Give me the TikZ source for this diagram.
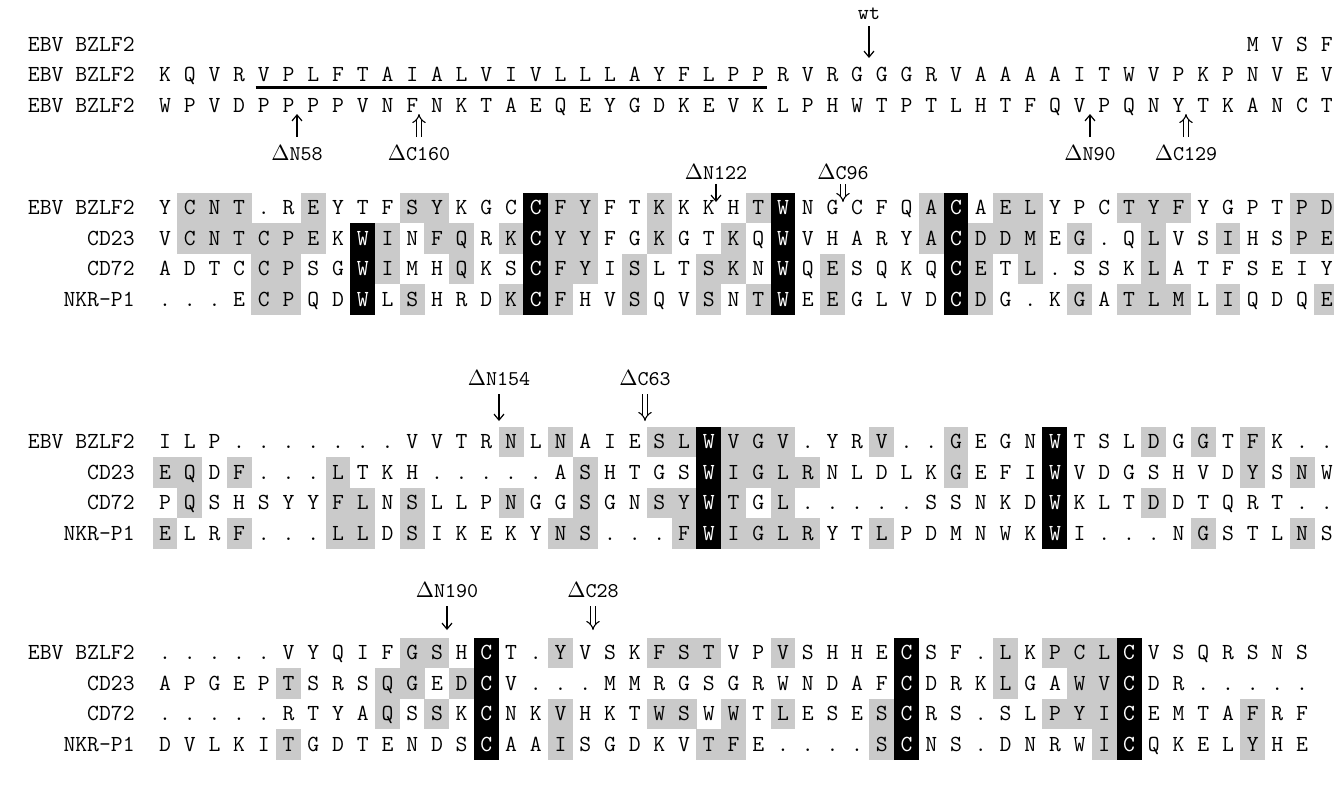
\documentclass[tikz,border=0pt]{standalone}
\usepackage{xcolor}
\usetikzlibrary{arrows.meta}
\definecolor{simgray}{RGB}{202,202,202}
\newcommand{\resfont}{\fontsize{11.5}{13}\selectfont\ttfamily}
\newcommand{\cutfont}{\fontsize{10.5}{12}\selectfont\ttfamily}
% residue columns are 24.72px apart, the first one at x=165
\newcommand{\colx}[1]{165+(#1-1)*24.72}
% one aligned row: prefix, name, y, shaded columns, boxed columns, residues
\newcommand{\seqrow}[6]{%
  \node[seqname] (#1) at (135,#3+6.5) {#2};
  \foreach \c in {#4}
    \fill[simbox] ({\colx{\c}-12.45},#3-15.3) rectangle ++(24.9,30.6);
  \foreach \c in {#5}{
    \fill[idbox] ({\colx{\c}-12.45},#3-15.3) rectangle ++(24.9,30.6);
    \expandafter\gdef\csname #1-k\c\endcsname{}
  }
  \foreach \aa [count=\c] in {#6}{
    \ifcsname #1-k\c\endcsname\def\rescol{white}\else\def\rescol{black}\fi
    \node[res,text=\rescol] (#1-\c) at ({\colx{\c}},#3+6.5) {\aa};
  }
}
% unshaded row starting at a given column
\newcommand{\plainrow}[5]{%
  \node[seqname] (#1) at (135,#3+6.5) {#2};
  \foreach \aa [count=\i from #4] in {#5}
    \node[res] (#1-\i) at ({\colx{\i}},#3+6.5) {\aa};
}

\begin{document}
\begin{tikzpicture}[x=0.5pt,y=-0.5pt,
  res/.style={font=\resfont, inner sep=0pt, anchor=base},
  seqname/.style={font=\resfont, inner sep=0pt, anchor=base east},
  simbox/.style={fill=simgray},
  idbox/.style={fill=black},
  cutlabel/.style={font=\cutfont, inner sep=1pt},
  cutN/.style={line width=0.6pt, -{Straight Barb[length=3pt,width=5pt]}},
  cutC/.style={double, double distance=1.8pt, line width=0.55pt, -{Implies}},
  tmline/.style={line width=1.1pt}]
\useasboundingbox (0,0) rectangle (1334,794);

% block 1: N-terminal part of BZLF2
\plainrow{b1r1}{EBV BZLF2}{44.5}{45}{M,V,S,F}
\plainrow{b1r2}{EBV BZLF2}{75}{1}{K,Q,V,R,V,P,L,F,T,A,I,A,L,V,I,V,L,L,L,A,Y,F,L,P,P,R,V,R,G,G,G,R,V,A,A,A,A,I,T,W,V,P,K,P,N,V,E,V}
\plainrow{b1r3}{EBV BZLF2}{105.5}{1}{W,P,V,D,P,P,P,P,V,N,F,N,K,T,A,E,Q,E,Y,G,D,K,E,V,K,L,P,H,W,T,P,T,L,H,T,F,Q,V,P,Q,N,Y,T,K,A,N,C,T}
\draw[tmline] ([xshift=-1pt,yshift=-3pt]b1r2-5.base west) -- ([xshift=1pt,yshift=-3pt]b1r2-25.base east);

\node[cutlabel] (wt) at (869,14) {wt};
\coordinate (wt-tip) at (869,58);
\draw[cutN, shorten <=2pt] (wt) -- (wt-tip);

\node[cutlabel] (dN58) at (297,153) {$\Delta$N58};
\coordinate (dN58-tip) at (297,114);
\draw[cutN, shorten <=3pt] (dN58) -- (dN58-tip);
\node[cutlabel] (dC160) at (419,153) {$\Delta$C160};
\coordinate (dC160-tip) at (419,114);
\draw[cutC, shorten <=3pt] (dC160) -- (dC160-tip);
\node[cutlabel] (dN90) at (1090,153) {$\Delta$N90};
\coordinate (dN90-tip) at (1090,114);
\draw[cutN, shorten <=3pt] (dN90) -- (dN90-tip);
\node[cutlabel] (dC129) at (1186,153) {$\Delta$C129};
\coordinate (dC129-tip) at (1186,114);
\draw[cutC, shorten <=3pt] (dC129) -- (dC129-tip);

% block 2
\seqrow{b2bzlf}{EBV BZLF2}{208}{2,3,4,7,11,12,17,18,21,25,32,35,36,40,41,42,47,48}{16,26,33}
  {Y,C,N,T,.,R,E,Y,T,F,S,Y,K,G,C,C,F,Y,F,T,K,K,K,H,T,W,N,G,C,F,Q,A,C,A,E,L,Y,P,C,T,Y,F,Y,G,P,T,P,D}
\seqrow{b2cd23}{CD23}{238.5}{2,3,4,5,6,7,10,12,13,15,17,18,21,24,32,34,35,36,38,41,44,47,48}{9,16,26,33}
  {V,C,N,T,C,P,E,K,W,I,N,F,Q,R,K,C,Y,Y,F,G,K,G,T,K,Q,W,V,H,A,R,Y,A,C,D,D,M,E,G,.,Q,L,V,S,I,H,S,P,E}
\seqrow{b2cd72}{CD72}{269}{5,6,10,13,17,18,20,23,24,28,34,36,41}{9,16,26,33}
  {A,D,T,C,C,P,S,G,W,I,M,H,Q,K,S,C,F,Y,I,S,L,T,S,K,N,W,Q,E,S,Q,K,Q,C,E,T,L,.,S,S,K,L,A,T,F,S,E,I,Y}
\seqrow{b2nkr}{NKR-P1}{299.5}{5,6,11,15,17,20,23,25,28,34,38,40,41,42,44,48}{9,16,26,33}
  {.,.,.,E,C,P,Q,D,W,L,S,H,R,D,K,C,F,H,V,S,Q,V,S,N,T,W,E,E,G,L,V,D,C,D,G,.,K,G,A,T,L,M,L,I,Q,D,Q,E}

\node[cutlabel] (dN122) at (716,172) {$\Delta$N122};
\coordinate (dN122-tip) at (716,202);
\draw[cutN, shorten <=1pt] (dN122) -- (dN122-tip);
\node[cutlabel] (dC96) at (843,172) {$\Delta$C96};
\coordinate (dC96-tip) at (843,202);
\draw[cutC, shorten <=1pt] (dC96) -- (dC96-tip);

% block 3
\seqrow{b3bzlf}{EBV BZLF2}{442}{15,17,21,22,24,25,26,30,33,41,43,45}{23,37}
  {I,L,P,.,.,.,.,.,.,.,V,V,T,R,N,L,N,A,I,E,S,L,W,V,G,V,.,Y,R,V,.,.,G,E,G,N,W,T,S,L,D,G,G,T,F,K,.,.}
\seqrow{b3cd23}{CD23}{472.5}{1,2,4,8,18,24,25,26,27,33,45,47}{23,37}
  {E,Q,D,F,.,.,.,L,T,K,H,.,.,.,.,.,A,S,H,T,G,S,W,I,G,L,R,N,L,D,L,K,G,E,F,I,W,V,D,G,S,H,V,D,Y,S,N,W}
\seqrow{b3cd72}{CD72}{503}{2,8,9,11,15,18,21,22,24,26,41}{23,37}
  {P,Q,S,H,S,Y,Y,F,L,N,S,L,L,P,N,G,G,S,G,N,S,Y,W,T,G,L,.,.,.,.,.,S,S,N,K,D,W,K,L,T,D,D,T,Q,R,T,.,.}
\seqrow{b3nkr}{NKR-P1}{533.5}{1,4,8,9,11,17,18,22,24,25,26,27,30,43,47}{23,37}
  {E,L,R,F,.,.,.,L,L,D,S,I,K,E,K,Y,N,S,.,.,.,F,W,I,G,L,R,Y,T,L,P,D,M,N,W,K,W,I,.,.,.,N,G,S,T,L,N,S}

\node[cutlabel] (dN154) at (499,378) {$\Delta$N154};
\coordinate (dN154-tip) at (499,421);
\draw[cutN, shorten <=3pt] (dN154) -- (dN154-tip);
\node[cutlabel] (dC63) at (645,378) {$\Delta$C63};
\coordinate (dC63-tip) at (645,421);
\draw[cutC, shorten <=3pt] (dC63) -- (dC63-tip);

% block 4
\seqrow{b4bzlf}{EBV BZLF2}{653}{11,12,17,21,22,23,26,35,37,38,39}{14,31,40}
  {.,.,.,.,.,V,Y,Q,I,F,G,S,H,C,T,.,Y,V,S,K,F,S,T,V,P,V,S,H,H,E,C,S,F,.,L,K,P,C,L,C,V,S,Q,R,S,N,S}
\seqrow{b4cd23}{CD23}{683.5}{6,10,11,13,35,38,39}{14,31,40}
  {A,P,G,E,P,T,S,R,S,Q,G,E,D,C,V,.,.,.,M,M,R,G,S,G,R,W,N,D,A,F,C,D,R,K,L,G,A,W,V,C,D,R,.,.,.,.,.}
\seqrow{b4cd72}{CD72}{714}{10,12,17,21,22,24,26,30,37,38,39,45}{14,31,40}
  {.,.,.,.,.,R,T,Y,A,Q,S,S,K,C,N,K,V,H,K,T,W,S,W,W,T,L,E,S,E,S,C,R,S,.,S,L,P,Y,I,C,E,M,T,A,F,R,F}
\seqrow{b4nkr}{NKR-P1}{744.5}{6,17,23,24,30,39,45}{14,31,40}
  {D,V,L,K,I,T,G,D,T,E,N,D,S,C,A,A,I,S,G,D,K,V,T,F,E,.,.,.,.,S,C,N,S,.,D,N,R,W,I,C,Q,K,E,L,Y,H,E}

\node[cutlabel] (dN190) at (447,590) {$\Delta$N190};
\coordinate (dN190-tip) at (447,630);
\draw[cutN, shorten <=3pt] (dN190) -- (dN190-tip);
\node[cutlabel] (dC28) at (593,590) {$\Delta$C28};
\coordinate (dC28-tip) at (593,630);
\draw[cutC, shorten <=3pt] (dC28) -- (dC28-tip);
\end{tikzpicture}
\end{document}
